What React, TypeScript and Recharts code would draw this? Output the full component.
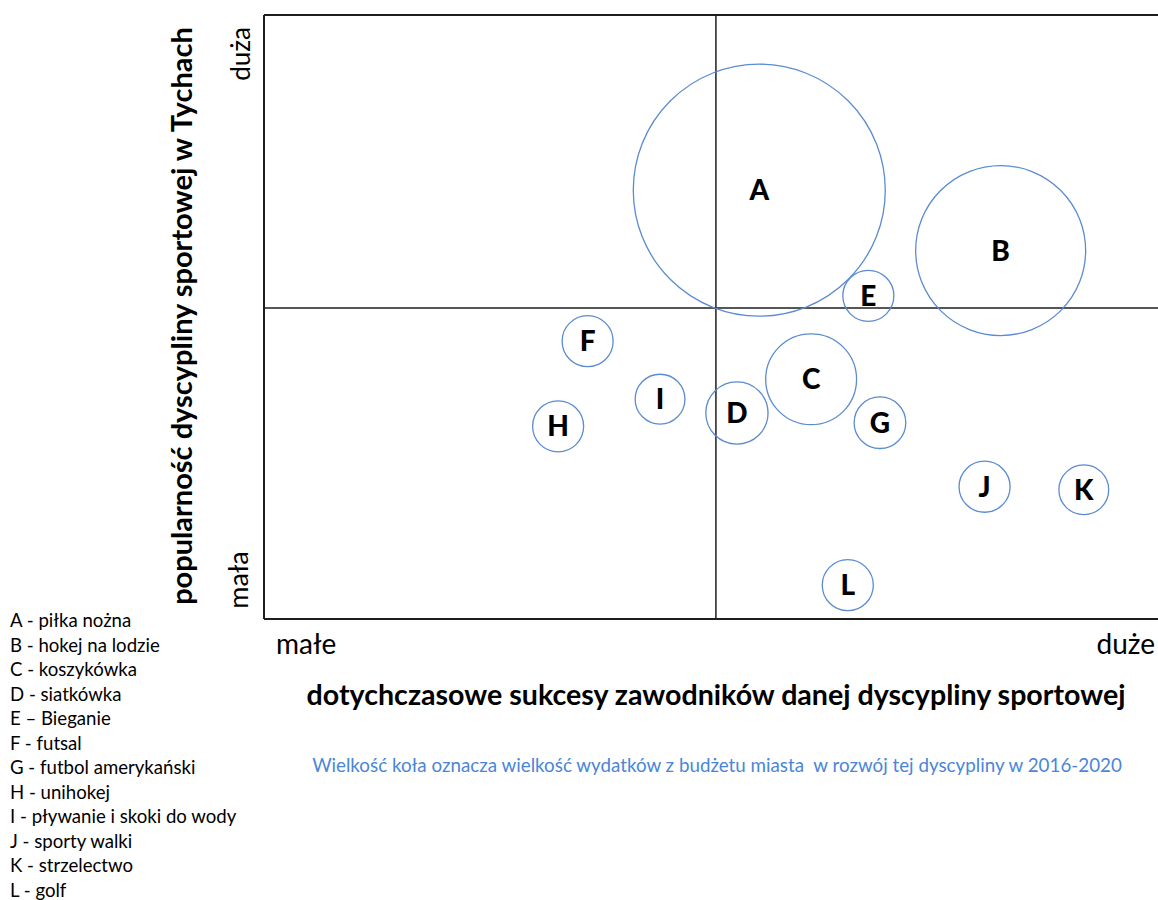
import React from "react";
import { ScatterChart, Scatter, XAxis, YAxis, ZAxis, ReferenceLine, LabelList } from "recharts";

// dyscypliny: pozycja (sukcesy, popularność) i wydatki z budżetu (wielkość koła)
const ids = ["A", "B", "C", "D", "E", "F", "G", "H", "I", "J", "K", "L"];
const sukcesy = [55.4, 82.4, 61.2, 52.9, 67.6, 36.2, 68.9, 32.9, 44.3, 80.6, 91.7, 65.3];
const popularnosc = [71.0, 61.0, 39.7, 34.1, 53.5, 46.0, 32.5, 31.9, 36.4, 21.9, 21.4, 5.6];
const wydatki = [100, 45.5, 13.0, 6.1, 4.1, 4.1, 4.2, 4.1, 3.9, 4.1, 3.9, 4.1];

const legendItems = [
  "A - piłka nożna",
  "B - hokej na lodzie",
  "C - koszykówka",
  "D - siatkówka",
  "E \u2013 Bieganie",
  "F - futsal",
  "G - futbol amerykański",
  "H - unihokej",
  "I - pływanie i skoki do wody",
  "J - sporty walki",
  "K - strzelectwo",
  "L - golf",
];

const crossX = 50.55;
const crossY = 51.5;

const data = ids.map((id, i) => ({ id, x: sukcesy[i], y: popularnosc[i], z: wydatki[i] }));

const FONT = "Lato, 'Open Sans', sans-serif";
const LINE = "#1e1e1e";

const Bubble = (props: any) => {
  const { cx, cy, width, size } = props;
  const r = width ? width / 2 : Math.sqrt((size || 0) / Math.PI);
  return <circle cx={cx} cy={cy} r={r} fill="none" stroke="#5b8bd0" strokeWidth={1.3} />;
};

export default function App() {
  return (
    <div style={{ position: "absolute", left: 0, top: 0, width: 1158, height: 900, background: "#fff", fontFamily: FONT, overflow: "hidden" }}>
      <ScatterChart width={1158} height={900} margin={{ top: 15, left: 264, right: 0, bottom: 281 }}>
        <XAxis type="number" dataKey="x" domain={[0, 100]} hide />
        <YAxis type="number" dataKey="y" domain={[0, 100]} hide />
        <ZAxis type="number" dataKey="z" domain={[0, 100]} range={[0, Math.PI * 126 * 126]} />
        <ReferenceLine y={100} stroke={LINE} strokeWidth={2} />
        <ReferenceLine y={0} stroke={LINE} strokeWidth={2} />
        <ReferenceLine x={0} stroke={LINE} strokeWidth={2} />
        <ReferenceLine x={crossX} stroke={LINE} strokeWidth={1.5} />
        <ReferenceLine y={crossY} stroke={LINE} strokeWidth={1.5} />
        <Scatter data={data} shape={<Bubble />} isAnimationActive={false}>
          <LabelList
            dataKey="id"
            position="center"
            fill="#000"
            fontSize={28}
            fontWeight={900}
            fontFamily={FONT}
          />
        </Scatter>
      </ScatterChart>

      {/* opisy osi */}
      <div style={{ position: "absolute", left: 276, top: 626, fontSize: 28, color: "#000" }}>małe</div>
      <div style={{ position: "absolute", right: 3, top: 626, fontSize: 28, color: "#000" }}>duże</div>
      <div style={{ position: "absolute", left: 269, width: 894, textAlign: "center", top: 677, fontSize: 28.6, fontWeight: "bold", color: "#000", whiteSpace: "nowrap" }}>
        dotychczasowe sukcesy zawodników danej dyscypliny sportowej
      </div>
      <div style={{ position: "absolute", left: 270, width: 894, textAlign: "center", top: 753, fontSize: 18.8, color: "#4a86d8", whiteSpace: "pre" }}>
        Wielkość koła oznacza wielkość wydatków z budżetu miasta  w rozwój tej dyscypliny w 2016-2020
      </div>

      <div style={{ position: "absolute", left: 180, top: 316, transform: "translate(-50%, -50%) rotate(-90deg)", whiteSpace: "nowrap", fontSize: 29, fontWeight: "bold", color: "#000" }}>
        popularność dyscypliny sportowej w Tychach
      </div>
      <div style={{ position: "absolute", left: 240, top: 54, transform: "translate(-50%, -50%) rotate(-90deg)", whiteSpace: "nowrap", fontSize: 26, color: "#000" }}>
        duża
      </div>
      <div style={{ position: "absolute", left: 237, top: 580, transform: "translate(-50%, -50%) rotate(-90deg)", whiteSpace: "nowrap", fontSize: 27, color: "#000" }}>
        mała
      </div>

      {/* legenda */}
      <div style={{ position: "absolute", left: 10, top: 608, fontSize: 18.6, lineHeight: "24.5px", color: "#000" }}>
        {legendItems.map((t) => (
          <div key={t} style={{ whiteSpace: "pre" }}>{t}</div>
        ))}
      </div>
    </div>
  );
}
